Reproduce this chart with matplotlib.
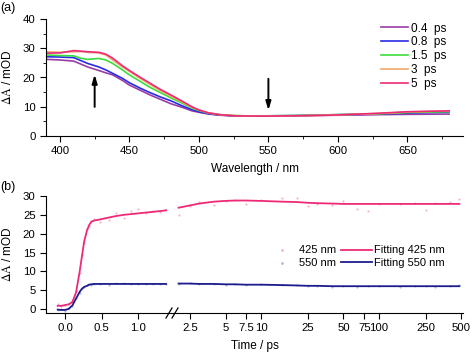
import matplotlib
matplotlib.use("Agg")
import matplotlib.pyplot as plt
from matplotlib.ticker import MultipleLocator, FixedLocator, FixedFormatter, NullLocator

plt.rcParams['font.family'] = ['Liberation Sans', 'DejaVu Sans']
plt.rcParams['mathtext.fontset'] = 'stix'
plt.rcParams['font.size'] = 8.5

# ---- (a) transient spectra ----
wl = [390, 400, 410, 415, 420, 428, 433, 438, 445, 450, 458, 465, 472, 480, 488, 495, 500, 507,
      515, 525, 540, 550, 570, 600, 630, 650, 680]
spec_04 = [26.2, 26.0, 25.6, 24.6, 23.6, 22.4, 21.6, 20.9, 19.0, 17.4, 15.6, 14.0, 12.6, 11.0, 9.8,
           8.6, 8.1, 7.5, 7.1, 6.9, 6.8, 6.8, 6.9, 7.1, 7.3, 7.4, 7.5]
spec_08 = [27.1, 27.0, 26.8, 25.8, 24.8, 23.6, 22.6, 21.4, 19.7, 18.2, 16.3, 14.8, 13.4, 12.0, 10.3,
           9.0, 8.3, 7.6, 7.2, 6.9, 6.8, 6.9, 7.0, 7.3, 7.5, 7.8, 8.2]
spec_15 = [27.7, 27.5, 27.4, 26.6, 26.2, 26.5, 26.0, 24.8, 22.6, 20.9, 18.6, 16.6, 14.9, 13.0, 11.2,
           9.5, 8.7, 7.8, 7.3, 7.0, 6.8, 6.9, 7.0, 7.3, 7.6, 8.0, 8.3]
spec_3 = [28.8, 28.6, 28.8, 28.9, 28.6, 28.4, 27.7, 26.0, 23.6, 22.1, 19.6, 17.6, 15.6, 13.6, 11.6,
          9.8, 8.9, 7.9, 7.3, 7.0, 6.8, 6.8, 6.9, 7.2, 7.7, 8.2, 8.6]
spec_5 = [28.3, 28.4, 29.2, 29.0, 28.8, 28.6, 28.0, 26.6, 24.0, 22.4, 20.0, 18.0, 16.0, 14.0, 11.9,
          10.0, 8.9, 7.9, 7.3, 6.9, 6.8, 6.8, 6.9, 7.2, 7.8, 8.3, 8.6]
spec_labels = ['0.4  ps', '0.8  ps', '1.5  ps', '3  ps', '5  ps']
spec_colors = ['#9a3ca6', '#2a2ae6', '#3ddc3d', '#f2a868', '#ee2a78']

# ---- (b) kinetics ----
t_short = [-0.1, -0.05, 0.0, 0.05, 0.1, 0.15, 0.2, 0.23, 0.26, 0.3, 0.33, 0.36, 0.4, 0.48,
           0.6, 0.7, 0.8, 0.9, 1.0, 1.1, 1.2, 1.3, 1.38]
fit425_short = [0.9, 0.9, 1.1, 1.3, 1.9, 4.4, 10.0, 13.9, 17.8, 20.9, 22.3, 23.2, 23.5, 23.8,
                24.3, 24.7, 25.0, 25.2, 25.4, 25.6, 25.8, 26.0, 26.2]
fit550_short = [-0.1, -0.2, -0.2, 0.1, 1.0, 2.8, 4.6, 5.4, 5.9, 6.2, 6.5, 6.6, 6.7, 6.7,
                6.7, 6.7, 6.7, 6.7, 6.7, 6.7, 6.7, 6.7, 6.7]
dat425_short = [1.3, 0.8, 1.0, 1.5, 2.2, 4.8, 9.6, 14.3, 17.5, 21.2, 22.0, 23.4, 23.8, 23.0,
                23.6, 25.5, 24.2, 26.0, 26.5, 25.4, 25.9, 25.8, 26.2]
dat550_short = [-0.3, 0.1, -0.4, 0.3, 0.8, 3.0, 4.4, 5.6, 6.0, 6.4, 6.8, 6.5, 6.8, 6.6,
                6.4, 6.9, 7.0, 6.7, 6.6, 6.8, 6.7, 6.6, 6.8]

t_long = [2.0, 2.5, 3.0, 4.0, 5.0, 6.0, 7.5, 10, 15, 20, 25, 30, 40, 50, 65, 80, 100, 150,
          200, 250, 300, 400, 480]
fit425_long = [26.9, 27.5, 28.0, 28.5, 28.7, 28.8, 28.8, 28.7, 28.5, 28.4, 28.2, 28.1, 28.0, 27.9,
               27.9, 27.9, 27.9, 27.9, 27.9, 27.9, 27.9, 27.9, 27.9]
fit550_long = [6.8, 6.8, 6.7, 6.7, 6.6, 6.6, 6.5, 6.5, 6.4, 6.3, 6.2, 6.2, 6.1, 6.1,
               6.1, 6.1, 6.1, 6.1, 6.1, 6.1, 6.1, 6.1, 6.1]
dat425_long = [25.0, 27.3, 28.3, 27.5, 28.6, 28.9, 27.8, 29.0, 29.4, 29.5, 27.3, 28.0, 27.6, 28.7,
               26.6, 26.0, 28.0, 27.9, 28.1, 26.3, 28.2, 28.5, 29.3]
dat550_long = [6.7, 6.9, 6.6, 6.8, 6.5, 6.7, 6.4, 6.6, 6.3, 6.4, 6.1, 6.2, 6.0, 6.2,
               6.0, 6.1, 6.2, 6.0, 6.1, 6.2, 6.0, 6.1, 6.4]

log_ticks = [2.5, 5, 7.5, 10, 25, 50, 75, 100, 250, 500]
log_labels = ['2.5', '5', '7.5', '10', '25', '50', '75', '100', '250', '500']

W, H = 474, 355
fig = plt.figure(figsize=(W / 100, H / 100), dpi=100)

def box(l, r, t, b):
    return [l / W, 1 - b / H, (r - l) / W, (b - t) / H]

axa = fig.add_axes(box(46, 463, 19, 136))
for y, lab, c in zip([spec_04, spec_08, spec_15, spec_3, spec_5], spec_labels, spec_colors):
    axa.plot(wl, y, color=c, lw=1.2, label=lab)
axa.set_xlim(390, 690)
axa.set_ylim(0, 40)
axa.xaxis.set_major_locator(MultipleLocator(50))
axa.xaxis.set_minor_locator(MultipleLocator(25))
axa.yaxis.set_major_locator(MultipleLocator(10))
axa.yaxis.set_minor_locator(MultipleLocator(5))
axa.spines['top'].set_visible(False)
axa.spines['right'].set_visible(False)
axa.tick_params(which='major', length=4, direction='out', labelsize=8.2)
axa.tick_params(which='minor', length=2, direction='out')
axa.set_xlabel('Wavelength / nm', labelpad=5)
axa.set_ylabel(r'$\Delta\mathrm{A}$ / mOD', labelpad=6)
axa.legend(loc='upper right', bbox_to_anchor=(0.985, 1.06), frameon=False, handlelength=2.3,
           handletextpad=0.2, labelspacing=0.15, fontsize=8.5)
axa.annotate('', xy=(425, 22), xytext=(425, 9),
             arrowprops=dict(arrowstyle='-|>,head_length=0.6,head_width=0.18', color='black', lw=1.4))
axa.annotate('', xy=(550, 7.8), xytext=(550, 20.5),
             arrowprops=dict(arrowstyle='-|>,head_length=0.6,head_width=0.18', color='black', lw=1.4))
fig.text(0.0, 0.995, '(a)', ha='left', va='top', fontsize=9)

# broken time axis
ax1 = fig.add_axes(box(46, 167.5, 196, 313))
ax2 = fig.add_axes(box(177, 463, 196, 313))
ax1.scatter(t_short, dat425_short, s=2.5, color='#f6b4cc', zorder=1, linewidths=0)
ax1.scatter(t_short, dat550_short, s=2.5, color='#b4bce0', zorder=1, linewidths=0)
ax1.plot(t_short, fit425_short, color='#ee2a78', lw=1.3)
ax1.plot(t_short, fit550_short, color='#1c1c8c', lw=1.3)
s1 = ax2.scatter(t_long, dat425_long, s=2.5, color='#f6b4cc', zorder=1, linewidths=0)
s2 = ax2.scatter(t_long, dat550_long, s=2.5, color='#b4bce0', zorder=1, linewidths=0)
l1, = ax2.plot(t_long, fit425_long, color='#ee2a78', lw=1.3)
l2, = ax2.plot(t_long, fit550_long, color='#1c1c8c', lw=1.3)

ax1.set_xlim(-0.26, 1.40)
ax2.set_xscale('log')
ax2.set_xlim(1.94, 515)
for ax in (ax1, ax2):
    ax.set_ylim(-1, 30)
    ax.spines['top'].set_visible(False)
    ax.spines['right'].set_visible(False)
    ax.tick_params(which='major', length=4, direction='out', labelsize=8.2)
ax1.xaxis.set_major_locator(FixedLocator([0.0, 0.5, 1.0]))
ax1.xaxis.set_major_formatter(FixedFormatter(['0.0', '0.5', '1.0']))
ax1.yaxis.set_major_locator(MultipleLocator(5))
ax1.set_ylabel(r'$\Delta\mathrm{A}$ / mOD', labelpad=6)
ax2.spines['left'].set_visible(False)
ax2.yaxis.set_visible(False)
ax2.xaxis.set_major_locator(FixedLocator(log_ticks))
ax2.xaxis.set_major_formatter(FixedFormatter(log_labels))
ax2.xaxis.set_minor_locator(NullLocator())
ax2.patch.set_alpha(0)

# break marks
yb = 1 - 313 / H
for x0 in (166, 172):
    fig.add_artist(plt.Line2D([x0 / W, (x0 + 6) / W], [yb - 5 / H, yb + 5 / H],
                              color='black', lw=0.9))
fig.add_artist(plt.Line2D([167.5 / W, 177 / W], [yb, yb], color='black', lw=0.8))

fig.legend([s1, s2, l1, l2], ['425 nm', '550 nm', 'Fitting 425 nm', 'Fitting 550 nm'],
           ncol=2, loc='center left', bbox_to_anchor=(256 / W, 1 - 256.5 / H), frameon=False,
           handlelength=2.8, handletextpad=0.2, columnspacing=0.4, labelspacing=0.2,
           markerscale=1.3, fontsize=8)
fig.text(255 / W, 1 - 346 / H, 'Time / ps', ha='center', va='center', fontsize=8.5)
fig.text(0.0, 1 - 181 / H, '(b)', ha='left', va='top', fontsize=9)

fig.savefig('out.png', dpi=100)
